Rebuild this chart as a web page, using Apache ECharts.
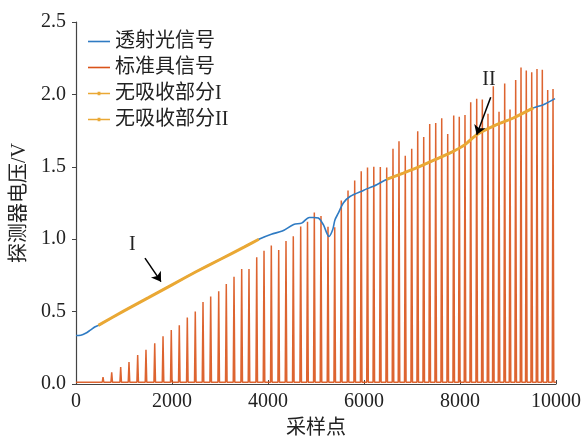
<!DOCTYPE html>
<html>
<head>
<meta charset="utf-8">
<script src="https://cdn.jsdelivr.net/npm/echarts@6/dist/echarts.min.js"></script>
<style>
html,body{margin:0;padding:0;background:#fff;}
#c{width:585px;height:438px;}
</style>
</head>
<body>
<div id="c"></div>
<script>
// ---- data ----
var seriesNames = ['透射光信号', '标准具信号', '无吸收部分I', '无吸收部分II'];

var blueX = [0, 100, 200, 300, 400, 470, 1000, 1500, 2000, 2500, 3000, 3500, 3810, 4069, 4298, 4535, 4700, 4861, 4944, 5049, 5153, 5271, 5347, 5396, 5465, 5569, 5708, 5986, 6264, 6470, 6819, 7167, 7514, 7861, 8104, 8348, 8764, 9111, 9528, 9736, 9979];
var blueY = [0.335, 0.337, 0.35, 0.372, 0.395, 0.405, 0.505, 0.595, 0.685, 0.775, 0.86, 0.945, 1.0, 1.035, 1.056, 1.102, 1.111, 1.15, 1.15, 1.146, 1.1, 1.019, 1.065, 1.134, 1.18, 1.25, 1.295, 1.337, 1.376, 1.413, 1.457, 1.503, 1.554, 1.607, 1.653, 1.722, 1.791, 1.837, 1.907, 1.929, 1.971];

var orange1X = [465, 1000, 1500, 2000, 2500, 3000, 3500, 3810];
var orange1Y = [0.405, 0.505, 0.595, 0.685, 0.775, 0.86, 0.945, 1.0];

var orange2X = [6470, 6819, 7167, 7514, 7861, 8104, 8348, 8764, 9111, 9528];
var orange2Y = [1.413, 1.457, 1.503, 1.554, 1.607, 1.653, 1.722, 1.791, 1.837, 1.907];

var spikeX = [375, 563, 744, 931, 1104, 1285, 1458, 1640, 1813, 1985, 2152, 2319, 2485, 2646, 2806, 2973, 3131, 3292, 3452, 3604, 3765, 3917, 4069, 4223, 4375, 4527, 4681, 4823, 4965, 5104, 5250, 5390, 5527, 5667, 5806, 5942, 6073, 6204, 6340, 6473, 6604, 6729, 6860, 6994, 7119, 7244, 7369, 7494, 7619, 7744, 7869, 7985, 8104, 8223, 8348, 8465, 8583, 8694, 8813, 8931, 9042, 9160, 9271, 9381, 9494, 9604, 9715, 9827, 9938];
var spikeY = [0.02, 0.048, 0.081, 0.118, 0.152, 0.2, 0.237, 0.281, 0.33, 0.373, 0.406, 0.46, 0.5, 0.567, 0.604, 0.641, 0.69, 0.74, 0.795, 0.795, 0.876, 0.92, 0.957, 0.925, 0.987, 1.02, 1.088, 1.12, 1.185, 1.16, 1.086, 1.083, 1.268, 1.337, 1.405, 1.47, 1.496, 1.5, 1.498, 1.496, 1.625, 1.676, 1.577, 1.625, 1.745, 1.706, 1.795, 1.803, 1.835, 1.727, 1.855, 1.845, 1.858, 1.946, 1.97, 1.964, 1.867, 2.056, 1.88, 2.075, 1.895, 2.1, 2.185, 2.165, 2.153, 2.176, 2.17, 2.03, 2.038];
var spikeBase = 0.012;

var xTicks = [0, 2000, 4000, 6000, 8000, 10000];
var yTicks = ['0.0', '0.5', '1.0', '1.5', '2.0', '2.5'];

var annotText = ['I', 'II'];
var annotTextPos = [[1173, 0.96], [8604, 2.10]];
var arrowFrom = [[1437, 0.869], [8640, 1.98]];
var arrowTo = [[1771, 0.707], [8348, 1.722]];

// ---- build ----
function zip(xs, ys) { return xs.map(function (x, i) { return [x, ys[i]]; }); }
var redData = [[0, spikeBase]];
spikeX.forEach(function (x, i) {
  redData.push([x - 16, spikeBase], [x, spikeY[i]], [x + 16, spikeBase]);
});
redData.push([10000, spikeBase]);

var serif = '"Liberation Serif","Times New Roman",serif';
var cjk = '"Liberation Serif","Noto Sans CJK SC",serif';
var colors = ['#2F7BC3', '#D95319', '#EAA834', '#EAA834'];
var lineIcon = 'path://M0,0L22,0L22,1.6L0,1.6Z';
var dotLineIcon = 'path://M0,1.1L22,1.1L22,2.4L0,2.4Z M9.6,0L12.4,0L12.4,3.5L9.6,3.5Z';

var chart = echarts.init(document.getElementById('c'), null, {renderer: 'canvas'});
chart.setOption({
  animation: false,
  color: colors,
  grid: {left: 76, right: 29, top: 22, bottom: 54, containLabel: false, outerBoundsMode: 'none'},
  legend: {
    data: [
      {name: seriesNames[0], icon: lineIcon},
      {name: seriesNames[1], icon: lineIcon},
      {name: seriesNames[2], icon: dotLineIcon},
      {name: seriesNames[3], icon: dotLineIcon}
    ],
    orient: 'vertical',
    left: 83, top: 26, symbolKeepAspect: true,
    itemWidth: 22, itemHeight: 10, itemGap: 5,
    textStyle: {fontFamily: cjk, fontSize: 20, color: '#222', lineHeight: 21}
  },
  xAxis: {
    type: 'value', min: 0, max: 10000, interval: 2000,
    name: '采样点', nameLocation: 'middle', nameGap: 35,
    nameTextStyle: {fontFamily: cjk, fontSize: 20, color: '#222'},
    axisLine: {lineStyle: {color: '#444', width: 1.2}},
    axisTick: {inside: true, length: 4, lineStyle: {color: '#444'}},
    axisLabel: {fontFamily: serif, fontSize: 20, color: '#222', margin: 8,
      formatter: function (v) { return xTicks.indexOf(v) >= 0 ? String(v) : ''; }},
    splitLine: {show: false}
  },
  yAxis: {
    type: 'value', min: 0, max: 2.5, interval: 0.5,
    name: '探测器电压/V', nameLocation: 'middle', nameGap: 40,
    nameTextStyle: {fontFamily: cjk, fontSize: 20, color: '#222'},
    axisLine: {show: true, lineStyle: {color: '#444', width: 1.2}},
    axisTick: {show: true, inside: false, length: 4, lineStyle: {color: '#444'}},
    axisLabel: {fontFamily: serif, fontSize: 20, color: '#222', margin: 10,
      formatter: function (v) { return yTicks[Math.round(v / 0.5)]; }},
    splitLine: {show: false}
  },
  series: [
    {
      name: seriesNames[0], type: 'line', data: zip(blueX, blueY),
      symbol: 'none', smooth: 0.3, lineStyle: {width: 1.6, color: colors[0]}, z: 3,
      markLine: {
        silent: true, symbol: ['none', 'arrow'], symbolSize: 9,
        lineStyle: {color: '#000', width: 1.5, type: 'solid'},
        label: {show: false},
        data: arrowFrom.map(function (f, i) { return [{coord: f}, {coord: arrowTo[i]}]; })
      }
    },
    {
      name: seriesNames[1], type: 'line', data: redData,
      symbol: 'none', lineStyle: {width: 1.5, color: colors[1], opacity: 0.9}, z: 2
    },
    {
      name: seriesNames[2], type: 'line', data: zip(orange1X, orange1Y),
      symbol: 'circle', symbolSize: 3, showSymbol: false, smooth: 0.2,
      lineStyle: {width: 3, color: colors[2]}, itemStyle: {color: colors[2]}, z: 4
    },
    {
      name: seriesNames[3], type: 'line', data: zip(orange2X, orange2Y),
      symbol: 'circle', symbolSize: 3, showSymbol: false, smooth: 0.2,
      lineStyle: {width: 3, color: colors[3]}, itemStyle: {color: colors[3]}, z: 4
    },
    {
      name: 'annot', type: 'scatter', symbolSize: 2, itemStyle: {color: 'rgba(0,0,0,0)'},
      data: annotTextPos.map(function (p, i) { return {value: p, name: annotText[i]}; }),
      label: {show: true, position: 'inside', formatter: '{b}', fontFamily: serif, fontSize: 20, color: '#222', opacity: 1},
      silent: true, z: 5
    }
  ]
});
</script>
</body>
</html>
